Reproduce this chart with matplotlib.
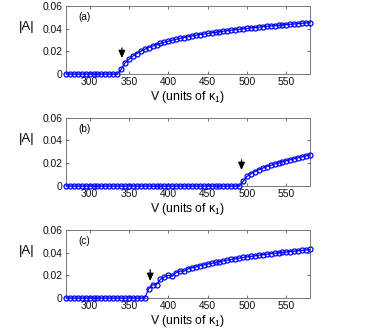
import numpy as np
import matplotlib
matplotlib.use("Agg")
import matplotlib.pyplot as plt

V = np.arange(270, 585, 5)

A_a = [0, 0, 0, 0, 0, 0, 0, 0, 0, 0, 0, 0, 0, 0,
       .0040, .0098, .0130, .0158, .0180, .0200, .0218, .0233, .0246, .0258,
       .0270, .0280, .0290, .0299, .0307, .0315, .0322, .0329, .0336, .0342,
       .0348, .0353, .0358, .0363, .0368, .0373, .0378, .0382, .0387, .0391,
       .0395, .0399, .0403, .0407, .0410, .0414, .0417, .0421, .0424, .0427,
       .0430, .0433, .0436, .0439, .0442, .0445, .0448, .0450, .0453]

A_b = [0, 0, 0, 0, 0, 0, 0, 0, 0, 0, 0, 0, 0, 0, 0,
       0, 0, 0, 0, 0, 0, 0, 0, 0, 0, 0, 0, 0, 0, 0,
       0, 0, 0, 0, 0, 0, 0, 0, 0, 0, 0, 0, 0, 0, 0,
       .0040, .0085, .0108, .0127, .0143, .0157, .0170, .0182, .0193, .0203,
       .0213, .0222, .0231, .0240, .0248, .0257, .0265, .0275]

A_c = [0, 0, 0, 0, 0, 0, 0, 0, 0, 0, 0, 0, 0, 0, 0, 0, 0, 0, 0, 0, 0,
       .0080, .0115, .0118, .0165, .0185, .0200, .0192, .0225, .0238, .0236,
       .0258, .0266, .0275, .0285, .0292, .0300, .0306, .0314, .0320, .0328,
       .0334, .0340, .0346, .0352, .0358, .0363, .0368, .0372, .0378, .0382,
       .0387, .0391, .0395, .0398, .0402, .0406, .0410, .0413, .0417, .0420,
       .0424, .0428]

panel_labels = ["(a)", "(b)", "(c)"]
arrow_V = [341, 493, 377]
arrow_top = [0.023, 0.023, 0.025]
arrow_bot = [0.014, 0.014, 0.015]
xticks = [300, 350, 400, 450, 500, 550]
yticks = [0, 0.02, 0.04, 0.06]
ytick_labels = ["0", "0.02", "0.04", "0.06"]

W, H = 379, 332
fig = plt.figure(figsize=(W / 100, H / 100), dpi=100)
plt.rcParams['font.family'] = ['Liberation Sans', 'DejaVu Sans']
plt.rcParams['mathtext.fontset'] = 'custom'
plt.rcParams['mathtext.rm'] = 'Liberation Sans'

tops = [6, 117.7, 230]
bots = [74, 186, 298]
left, right = 66, 310

for i, data in enumerate([A_a, A_b, A_c]):
    ax = fig.add_axes([left / W, 1 - bots[i] / H, (right - left) / W, (bots[i] - tops[i]) / H])
    ax.plot(V, data, '-o', color=(0, 0, 1), mfc='none', mec=(0, 0, 1),
            ms=3.6, mew=0.9, lw=0.9, clip_on=False, zorder=3)
    ax.set_xlim(270, 580)
    ax.set_ylim(0, 0.06)
    ax.set_xticks(xticks)
    ax.set_yticks(yticks)
    ax.set_yticklabels(ytick_labels)
    ax.tick_params(direction='in', length=2.5, width=0.6, colors='#555555',
                   labelcolor='#111111', labelsize=7.4, top=True, right=True, pad=2.5)
    for s in ax.spines.values():
        s.set_color('#777777')
        s.set_linewidth(0.7)
    ax.set_xlabel("V (units of κ$_1$)", fontsize=8.8, labelpad=1)
    ax.set_ylabel("|A|", fontsize=9.5, rotation=0, labelpad=0)
    ax.yaxis.set_label_coords(-0.16, 0.6)
    ax.text(0.05, 0.84, panel_labels[i], transform=ax.transAxes, fontsize=7.2,
            va='center', ha='left')
    ax.annotate("", xy=(arrow_V[i], arrow_bot[i]), xytext=(arrow_V[i], arrow_top[i]),
                arrowprops=dict(arrowstyle='-|>,head_width=0.2,head_length=0.45',
                                color='black', lw=0.9, shrinkA=0, shrinkB=0))

fig.savefig("out.png", dpi=100)
